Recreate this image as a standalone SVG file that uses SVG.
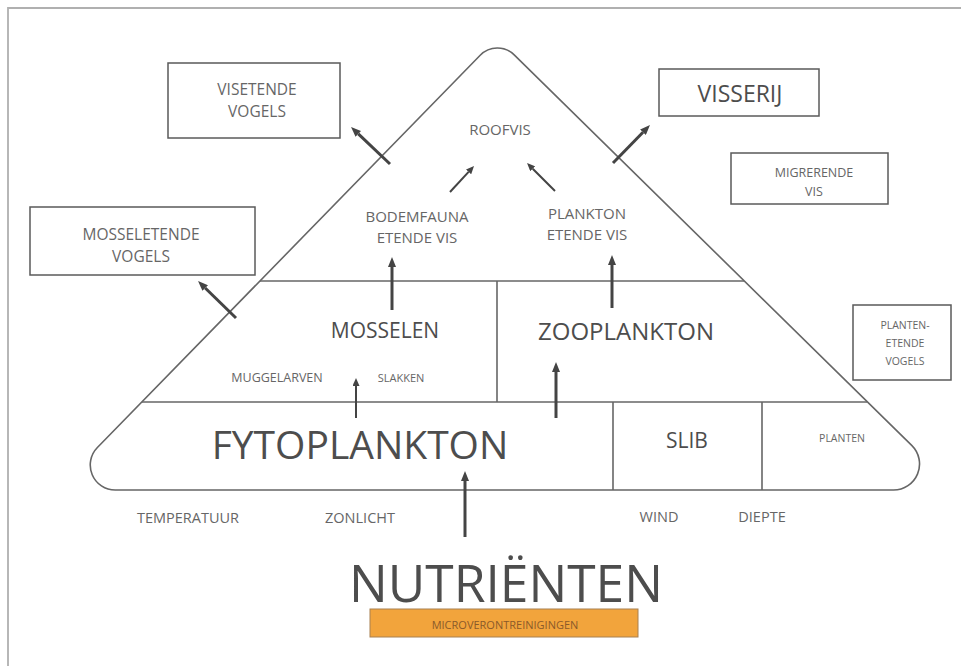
<svg xmlns="http://www.w3.org/2000/svg" width="961" height="666" viewBox="0 0 961 666">
<style>
text{font-family:"Open Sans","Noto Sans","Liberation Sans",sans-serif;fill:#666;text-anchor:middle;dominant-baseline:central}
.big{fill:#4d4d4d}
.box{fill:#fff;stroke:#5a5a5a;stroke-width:1.5}
.pyr{fill:none;stroke:#666;stroke-width:1.6}
.frame{stroke:#b0b0b0;stroke-width:1.8;fill:none}
.thick{stroke:#444;stroke-width:3;fill:none;marker-end:url(#ah)}
.thin{stroke:#444;stroke-width:2;fill:none;marker-end:url(#as)}
</style>
<defs>
<marker id="ah" viewBox="0 0 10 8" refX="0" refY="4" markerWidth="10" markerHeight="8" markerUnits="userSpaceOnUse" orient="auto"><path d="M0,0 L10,4 L0,8 z" fill="#444"/></marker>
<marker id="as" viewBox="0 0 8 7" refX="0" refY="3.5" markerWidth="8" markerHeight="7" markerUnits="userSpaceOnUse" orient="auto"><path d="M0,0 L8,3.5 L0,7 z" fill="#444"/></marker>
</defs>
<rect width="961" height="666" fill="#fff"/>
<path class="frame" d="M8,666 L8,8 L961,8"/>
<g id="pyramid">
<path class="pyr" d="M480.2,55.3 A24,24 0 0 1 514.2,54.9 L911.7,445.4 A26,26 0 0 1 893.4,490 L115.3,490 A25,25 0 0 1 97.4,447.5 Z"/>
<line class="pyr" x1="260" y1="281" x2="744" y2="281"/>
<line class="pyr" x1="142" y1="402" x2="867" y2="402"/>
<line class="pyr" x1="497" y1="281" x2="497" y2="402"/>
<line class="pyr" x1="613" y1="402" x2="613" y2="490"/>
<line class="pyr" x1="762" y1="402" x2="762" y2="490"/>
</g>
<g id="roofvis"><text x="500" y="129" font-size="15">ROOFVIS</text></g>
<g id="bodemfauna"><text x="417" y="216" font-size="15">BODEMFAUNA</text><text x="417" y="237" font-size="15">ETENDE VIS</text></g>
<g id="plankton-etende-vis"><text x="587" y="213" font-size="15">PLANKTON</text><text x="587" y="234" font-size="15">ETENDE VIS</text></g>
<g id="mosselen"><text class="big" x="385" y="330" font-size="21">MOSSELEN</text>
<text x="277" y="377" font-size="12.5">MUGGELARVEN</text><text x="401" y="377" font-size="11">SLAKKEN</text></g>
<g id="zooplankton"><text class="big" x="626" y="330" font-size="24">ZOOPLANKTON</text></g>
<g id="fytoplankton"><text class="big" x="360" y="443" font-size="39">FYTOPLANKTON</text></g>
<g id="slib"><text class="big" x="687" y="440" font-size="21">SLIB</text></g>
<g id="planten"><text x="842" y="438" font-size="10.5">PLANTEN</text></g>
<g id="factors">
<text x="188" y="517" font-size="14.5">TEMPERATUUR</text>
<text x="360" y="517" font-size="14.5">ZONLICHT</text>
<text x="659" y="516" font-size="14.5">WIND</text>
<text x="762" y="516" font-size="14.5">DIEPTE</text>
</g>
<g id="nutrienten"><text class="big" x="506" y="602" font-size="51.5" style="dominant-baseline:alphabetic">NUTRIËNTEN</text></g>
<g id="microverontreinigingen"><rect x="370" y="609" width="268" height="28" fill="#f2a43c" stroke="#a88050" stroke-width="1"/><text x="505" y="624.5" font-size="11" style="fill:#8a5a2a">MICROVERONTREINIGINGEN</text></g>
<g id="visetende-vogels"><rect class="box" x="168" y="63" width="172" height="75"/><text x="257" y="89" font-size="15.5">VISETENDE</text><text x="257" y="111" font-size="15.5">VOGELS</text></g>
<g id="mosseletende-vogels"><rect class="box" x="30" y="207" width="225" height="68"/><text x="141" y="234" font-size="15.5">MOSSELETENDE</text><text x="141" y="256" font-size="15.5">VOGELS</text></g>
<g id="visserij"><rect class="box" x="659" y="69" width="160" height="47"/><text class="big" x="740" y="93" font-size="23">VISSERIJ</text></g>
<g id="migrerende-vis"><rect class="box" x="731" y="153" width="157" height="51"/><text x="814" y="172" font-size="12.5">MIGRERENDE</text><text x="814" y="191" font-size="12.5">VIS</text></g>
<g id="plantenetende-vogels"><rect class="box" x="853" y="305" width="98" height="75"/><text x="905" y="325" font-size="10.5">PLANTEN-</text><text x="905" y="343" font-size="10.5">ETENDE</text><text x="905" y="361" font-size="10.5">VOGELS</text></g>
<g id="connectors">
<line class="thick" x1="390" y1="164" x2="358.3" y2="133.9"/>
<line class="thick" x1="236" y1="318" x2="205.2" y2="288"/>
<line class="thick" x1="613" y1="163" x2="643" y2="132.2"/>
<line class="thin" x1="450" y1="192" x2="468.6" y2="171.9"/>
<line class="thin" x1="555" y1="191" x2="532.7" y2="168.7"/>
<line class="thick" x1="392" y1="310" x2="392" y2="267"/>
<line class="thick" x1="612" y1="308" x2="612" y2="265"/>
<line class="thin" x1="356" y1="418" x2="356" y2="386"/>
<line class="thick" x1="556" y1="418" x2="556" y2="372"/>
<line class="thick" x1="465" y1="537" x2="465" y2="481"/>
</g>
</svg>
